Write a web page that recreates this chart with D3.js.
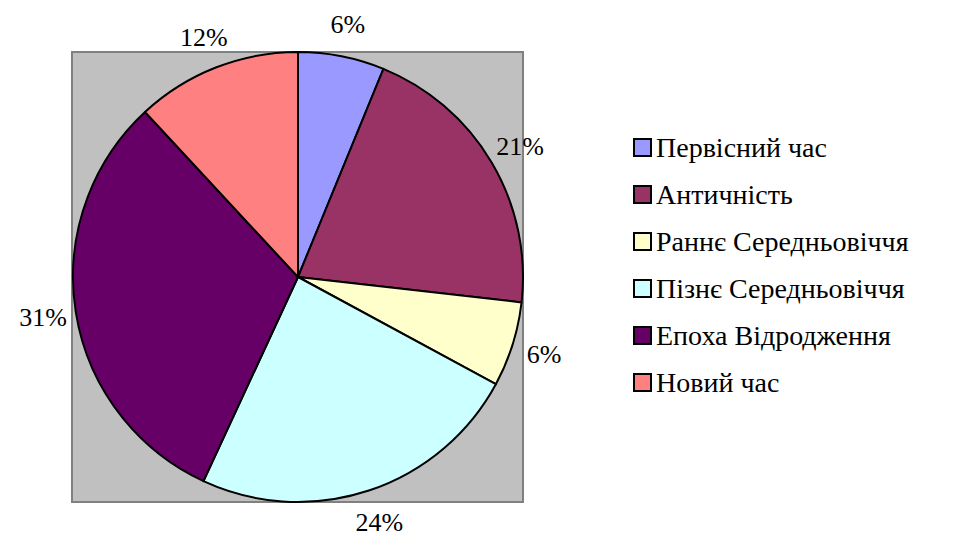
<!DOCTYPE html>
<html>
<head>
<meta charset="utf-8">
<script src="https://cdn.jsdelivr.net/npm/d3@7"></script>
<style>
  body { margin: 0; background: #fff; }
  svg text { font-family: "Liberation Serif", "Times New Roman", serif !important; }
</style>
</head>
<body>
<div id="chart"></div>
<script>
var categories = ["Первісний час", "Античність", "Раннє Середньовіччя", "Пізнє Середньовіччя", "Епоха Відродження", "Новий час"];
var values = [6.2, 20.6, 6.1, 24.0, 31.2, 11.9];
var colors = ["#9999ff", "#993366", "#ffffcc", "#ccffff", "#660066", "#ff8080"];

var width = 954, height = 534;
var cx = 298, cy = 277, radius = 225;

var svg = d3.select("#chart").append("svg").attr("width", width).attr("height", height);

// plot area
svg.append("rect")
    .attr("x", 72).attr("y", 52)
    .attr("width", 451).attr("height", 450)
    .style("fill", "#c0c0c0")
    .style("stroke", "#808080")
    .style("stroke-width", 2);

var pie = d3.pie().sort(null).value(d => d);
var arcs = pie(values);
var arc = d3.arc().innerRadius(0).outerRadius(radius);
var labelArc = d3.arc().innerRadius(258).outerRadius(258);
var total = d3.sum(values);

var g = svg.append("g").attr("transform", "translate(" + cx + "," + cy + ")");

g.selectAll("path")
    .data(arcs)
    .enter().append("path")
        .attr("d", arc)
        .style("fill", (d, i) => colors[i])
        .style("stroke", "#000")
        .style("stroke-width", 2)
        .style("stroke-linejoin", "round");

// percentage labels
g.selectAll("text.lbl")
    .data(arcs)
    .enter().append("text")
        .attr("class", "lbl")
        .attr("transform", d => "translate(" + labelArc.centroid(d) + ")")
        .attr("y", 9)
        .attr("text-anchor", "middle")
        .style("font-family", "'Liberation Serif'", "important")
        .style("font-size", "26px")
        .text(d => Math.round(d.value / total * 100) + "%");

// legend
var row = svg.selectAll("g.key")
    .data(categories)
    .enter().append("g")
        .attr("class", "key")
        .attr("transform", (d, i) => "translate(634," + (147 + i * 47) + ")");

row.append("rect")
    .attr("y", -8)
    .attr("width", 17).attr("height", 17)
    .style("fill", (d, i) => colors[i])
    .style("stroke", "#000")
    .style("stroke-width", 2);

row.append("text")
    .attr("x", 22)
    .attr("y", 10)
    .style("font-family", "'Liberation Serif'", "important")
    .style("font-size", "28px")
    .text(d => d);
</script>
</body>
</html>
